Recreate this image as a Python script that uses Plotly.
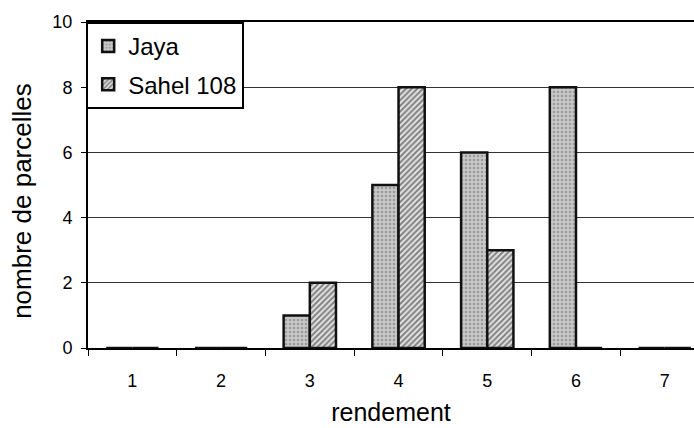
import plotly.graph_objects as go

# Yield classes and plot counts per variety
rendement = [1, 2, 3, 4, 5, 6, 7]
jaya = [0, 0, 1, 5, 6, 8, 0]
sahel_108 = [0, 0, 2, 8, 3, 0, 0]
y_ticks = [0, 2, 4, 6, 8, 10]

font_family = "Liberation Sans, Arial, sans-serif"

fig = go.Figure()
fig.add_trace(go.Bar(
    x=rendement, y=jaya, name="Jaya", legendgroup="a",
    marker=dict(
        color="#c4c4c4",
        line=dict(color="#111111", width=2.5),
        pattern=dict(shape=".", fgcolor="#6e6e6e", bgcolor="#c8c8c8",
                     size=4, solidity=0.35),
    ),
))
fig.add_trace(go.Bar(
    x=rendement, y=sahel_108, name="Sahel 108", legendgroup="b",
    marker=dict(
        color="#dddddd",
        line=dict(color="#111111", width=2.5),
        pattern=dict(shape="/", fgcolor="#1e1e1e", bgcolor="#e4e4e4",
                     size=4, solidity=0.5),
    ),
))

# Vertical axis title, placed as a rotated annotation left of the tick labels
fig.add_annotation(
    text="nombre de parcelles", textangle=-90,
    xref="paper", yref="paper", x=-0.108, y=0.45,
    xanchor="center", yanchor="middle", showarrow=False,
    font=dict(size=26),
)

fig.update_layout(
    width=694, height=428,
    margin=dict(l=88, r=0, t=22, b=80),
    paper_bgcolor="white", plot_bgcolor="white",
    barmode="group", bargap=0.41, bargroupgap=0,
    font=dict(family=font_family, size=18, color="black"),
    showlegend=True,
    legend=dict(
        x=-0.003, y=1, xanchor="left", yanchor="top",
        bgcolor="white", bordercolor="black", borderwidth=2,
        font=dict(size=24), tracegroupgap=4, itemwidth=30,
    ),
    xaxis=dict(
        range=[0.5, 7.33], tickvals=rendement, ticks="",
        showline=True, linecolor="black", linewidth=2, mirror=True,
        showgrid=False, zeroline=False,
        minor=dict(tickvals=[0.5, 1.5, 2.5, 3.5, 4.5, 5.5, 6.5],
                   ticks="outside", ticklen=6, tickcolor="black"),
        ticklabelstandoff=15,
        title=dict(text="rendement", font=dict(size=25), standoff=14),
    ),
    yaxis=dict(
        range=[0, 10], tickvals=y_ticks, ticks="outside", ticklen=5,
        tickcolor="black", showline=True, linecolor="black", linewidth=2,
        showgrid=True, gridcolor="#333333", gridwidth=1, zeroline=False,
        ticklabelstandoff=5,
    ),
)

fig.write_html("out.html")
